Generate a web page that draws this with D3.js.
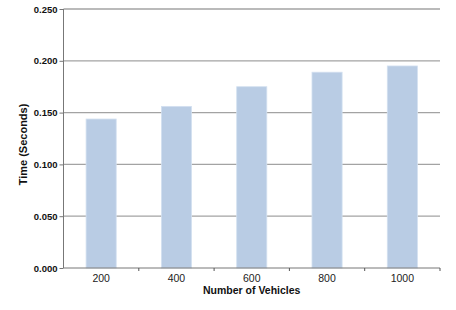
<!DOCTYPE html>
<html>
<head>
<meta charset="utf-8">
<script src="https://cdn.jsdelivr.net/npm/d3@7"></script>
<style>
  body { margin: 0; background: #fff; }
  svg { display: block; font-family: "Liberation Sans", Arial, sans-serif; }
</style>
</head>
<body>
<svg width="456" height="310"></svg>
<script>
var vehicles = ["200", "400", "600", "800", "1000"];
var times = [0.1438, 0.156, 0.175, 0.189, 0.195];
var yTicks = [0, 0.05, 0.1, 0.15, 0.2, 0.25];

var svg = d3.select("svg"),
    margin = {top: 9, right: 16, bottom: 42, left: 63.5},
    width = +svg.attr("width") - margin.left - margin.right,
    height = +svg.attr("height") - margin.top - margin.bottom,
    g = svg.append("g").attr("transform", "translate(" + margin.left + "," + margin.top + ")");

var x = d3.scaleBand().domain(vehicles).range([0, width]).paddingInner(0.6).paddingOuter(0.3);
var y = d3.scaleLinear().domain([0, 0.25]).range([height, 0]);

// gridlines
g.append("g")
    .selectAll("line")
    .data(yTicks.slice(1))
    .enter().append("line")
    .attr("x1", 0)
    .attr("x2", width)
    .attr("y1", function (d) { return y(d); })
    .attr("y2", function (d) { return y(d); })
    .style("stroke", "#a3a3a3")
    .style("stroke-width", 1.3);

// bars
g.append("g")
    .selectAll("rect")
    .data(times)
    .enter().append("rect")
    .attr("x", function (d, i) { return x(vehicles[i]); })
    .attr("y", function (d) { return y(d); })
    .attr("width", x.bandwidth())
    .attr("height", function (d) { return height - y(d); })
    .style("fill", "#b9cce4")
    .style("stroke", "#d3e0f0")
    .style("stroke-width", 0.8);

// y axis
var yAxis = g.append("g")
    .call(d3.axisLeft(y).tickValues(yTicks).tickFormat(d3.format(".3f")).tickSize(4).tickPadding(2));
yAxis.select(".domain").style("stroke", "#777").attr("d", "M0," + height + "V0");
yAxis.selectAll(".tick line").style("stroke", "#777");
yAxis.selectAll("text")
    .style("font-size", "9.5px")
    .style("font-weight", "bold")
    .style("fill", "#111");

// x axis
var xAxis = g.append("g")
    .attr("transform", "translate(0," + height + ")")
    .call(d3.axisBottom(x).tickSize(0).tickPadding(7));
xAxis.select(".domain").style("stroke", "#777").attr("d", "M0,0H" + width);
xAxis.selectAll("text")
    .style("font-size", "10.5px")
    .style("fill", "#222");

// category boundary ticks
g.append("g")
    .selectAll("line")
    .data(d3.range(1, vehicles.length + 1))
    .enter().append("line")
    .attr("x1", function (d) { return d * x.step() - (x.step() * 0.3 - x.step() * 0.3); })
    .attr("x2", function (d) { return d * x.step(); })
    .attr("y1", height)
    .attr("y2", height + 3)
    .style("stroke", "#555")
    .style("stroke-width", 1);

// axis titles
svg.append("text")
    .attr("x", margin.left + width / 2)
    .attr("y", 294)
    .attr("text-anchor", "middle")
    .style("font-size", "10.5px")
    .style("font-weight", "bold")
    .style("fill", "#111")
    .text("Number of Vehicles");

svg.append("text")
    .attr("transform", "translate(27," + (margin.top + height / 2 + 6) + ") rotate(-90)")
    .attr("text-anchor", "middle")
    .style("font-size", "11px")
    .style("font-weight", "bold")
    .style("fill", "#111")
    .text("Time (Seconds)");
</script>
</body>
</html>
